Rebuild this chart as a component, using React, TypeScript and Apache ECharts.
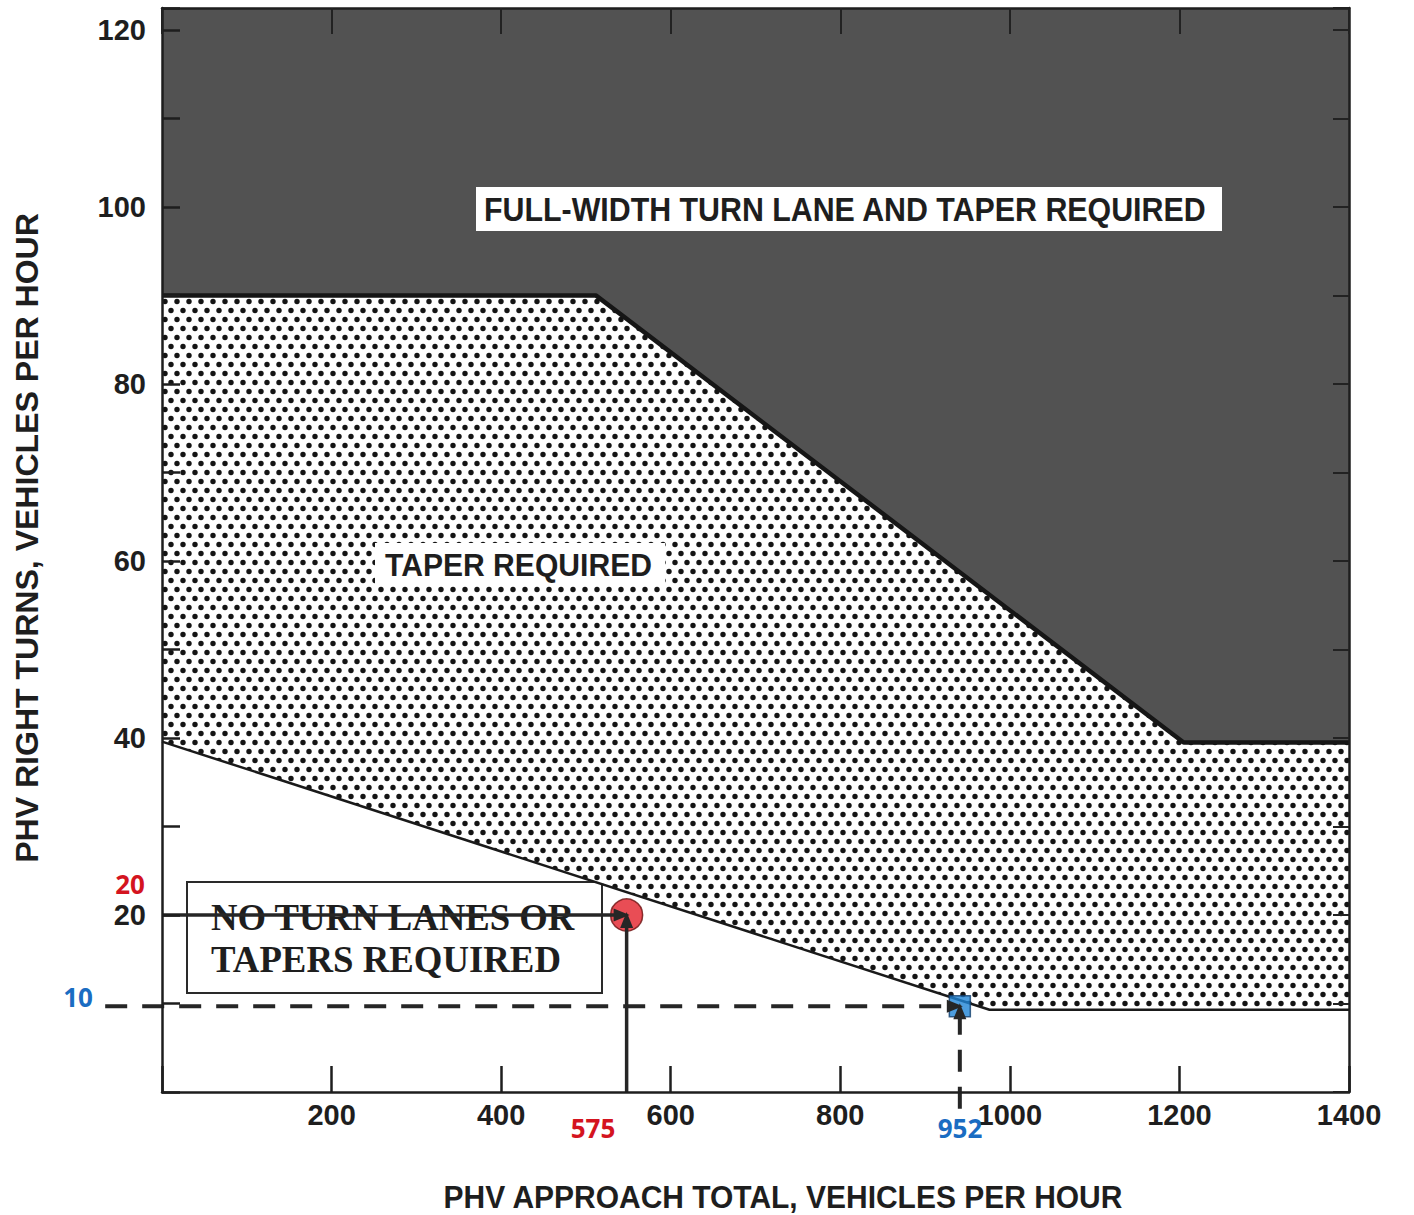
import React, { useEffect, useRef } from 'react';
import * as echarts from 'echarts';

// ---- data ----
const xTickStep = 200;
const yTickStep = 10;
const upperBoundary: number[][] = [[0, 90], [512, 90], [1205, 39.5], [1400, 39.5]];
const lowerBoundary: number[][] = [[0, 39.6], [976, 9.3], [1400, 9.3]];
const pointRed: number[] = [548, 20];
const pointBlue: number[] = [941, 9.7];
const redGuideH: number[][] = [[0, 20], [548, 20]];
const redGuideV: number[][] = [[548, 0], [548, 20]];
const blueGuideH: number[][] = [[-67, 9.7], [941, 9.7]];
const blueGuideV: number[][] = [[941, -1.9], [941, 9.7]];
const redLabels = ['20', '575'];
const blueLabels = ['10', '952'];
const regionTexts = [
  'FULL-WIDTH TURN LANE AND TAPER REQUIRED',
  'TAPER REQUIRED',
  'NO TURN LANES OR',
  'TAPERS REQUIRED',
];
const xTitle = 'PHV APPROACH TOTAL, VEHICLES PER HOUR';
const yTitle = 'PHV RIGHT TURNS, VEHICLES PER HOUR';

const SANS = '"Liberation Sans", Arial, Helvetica, sans-serif';
const SERIF = '"Liberation Serif", "Times New Roman", serif';

function measure(text: string, font: string): number {
  const c = document.createElement('canvas').getContext('2d')!;
  c.font = font;
  return c.measureText(text).width || 1;
}

function fitText(text: string, x: number, y: number, width: number, size: number, family: string, align: 'left' | 'center', extra: any = {}) {
  const font = `bold ${size}px ${family}`;
  const s = width / measure(text, font);
  return {
    type: 'text',
    x,
    y,
    scaleX: s,
    ...extra,
    style: {
      text,
      font,
      fill: '#1e1e1e',
      textAlign: align,
      verticalAlign: 'middle',
    },
  };
}

const TILE_W = 12;
const TILE_H = 18;

function makeDotPattern(): string {
  const c = document.createElement('canvas');
  c.width = TILE_W; c.height = TILE_H;
  const g = c.getContext('2d')!;
  g.fillStyle = '#ffffff';
  g.fillRect(0, 0, TILE_W, TILE_H);
  g.fillStyle = '#141414';
  const dots = [[3, 4.5], [9, 13.5]];
  dots.forEach(([dx, dy]) => {
    g.beginPath();
    g.arc(dx, dy, 2.7, 0, Math.PI * 2);
    g.fill();
  });
  return c.toDataURL();
}

// Guide line with an arrowhead at its end, drawn through the axes (custom series, unclipped)
function guideSeries(data: number[][], dashed: boolean) {
  return {
    type: 'custom',
    z: 6,
    silent: true,
    clip: false,
    data: [[data[0][0], data[0][1], data[1][0], data[1][1]]],
    encode: { x: [0, 2], y: [1, 3] },
    renderItem: (_params: any, api: any) => {
      const p1 = api.coord([api.value(0), api.value(1)]);
      const p2 = api.coord([api.value(2), api.value(3)]);
      const dx = p2[0] - p1[0];
      const dy = p2[1] - p1[1];
      const len = Math.hypot(dx, dy) || 1;
      const ux = dx / len, uy = dy / len;
      const nx = -uy, ny = ux;
      const tip = [p2[0] + ux * 3, p2[1] + uy * 3];
      const headLen = 16, headW = 6.5;
      const base = [tip[0] - ux * headLen, tip[1] - uy * headLen];
      return {
        type: 'group',
        children: [
          {
            type: 'line',
            shape: { x1: p1[0], y1: p1[1], x2: base[0] + ux * 2, y2: base[1] + uy * 2 },
            style: { stroke: '#262626', lineWidth: dashed ? 4 : 3.5, lineDash: dashed ? [22, 15] : null, fill: null },
          },
          {
            type: 'polygon',
            shape: { points: [tip, [base[0] + nx * headW, base[1] + ny * headW], [base[0] - nx * headW, base[1] - ny * headW]] },
            style: { fill: '#262626' },
          },
        ],
      };
    },
  };
}

export default function App() {
  const ref = useRef<HTMLDivElement>(null);
  useEffect(() => {
    if (!ref.current) return;
    const chart = echarts.init(ref.current, undefined, { renderer: 'svg' });
    const dotUrl = makeDotPattern();

    const axisLineStyle = { color: '#1e1e1e', width: 2.5 };
    const tickStyle = { color: '#1e1e1e', width: 2.5 };
    const labelFont = { fontFamily: SANS, fontWeight: 'bold', fontSize: 29, color: '#1e1e1e' };

    const colored = (text: string, x: number, y: number, color: string) => ({
      type: 'text', x, y, z: 20,
      style: { text, font: `bold 26px "Open Sans", sans-serif`, fill: color, textAlign: 'center', verticalAlign: 'middle' },
    });

    chart.setOption({
      animation: false,
      grid: { left: 162, right: 65, top: 8, bottom: 123, containLabel: false },
      xAxis: [
        {
          type: 'value', min: 0, max: 1400, interval: xTickStep, position: 'bottom', z: 10,
          axisLine: { show: true, onZero: false, lineStyle: axisLineStyle },
          axisTick: { show: true, inside: true, length: 26, lineStyle: tickStyle },
          axisLabel: { ...labelFont, margin: 8, formatter: (v: number) => (v === 0 ? '' : String(v)) },
          splitLine: { show: false },
        },
        {
          type: 'value', min: 0, max: 1400, interval: xTickStep, position: 'top', z: 10,
          axisLine: { show: true, onZero: false, lineStyle: axisLineStyle },
          axisTick: { show: true, inside: true, length: 26, lineStyle: { color: '#222', width: 2 } },
          axisLabel: { show: false },
          splitLine: { show: false },
        },
      ],
      yAxis: [
        {
          type: 'value', min: 0, max: 122.5, interval: yTickStep, position: 'left', z: 10,
          axisLine: { show: true, onZero: false, lineStyle: axisLineStyle },
          axisTick: { show: true, inside: true, length: 18, lineStyle: tickStyle },
          axisLabel: {
            ...labelFont, margin: 16,
            formatter: (v: number) => (v > 0 && v <= 120 && v % 20 === 0 ? String(v) : ''),
          },
          splitLine: { show: false },
        },
        {
          type: 'value', min: 0, max: 122.5, interval: yTickStep, position: 'right', z: 10,
          axisLine: { show: true, onZero: false, lineStyle: axisLineStyle },
          axisTick: { show: true, inside: true, length: 16, lineStyle: { color: '#222', width: 2 } },
          axisLabel: { show: false },
          splitLine: { show: false },
        },
      ],
      series: [
        {
          type: 'line', name: 'taper', z: 2, silent: true,
          symbol: 'none',
          data: lowerBoundary,
          lineStyle: { color: '#1a1a1a', width: 2.5 },
          areaStyle: {
            origin: 'end', opacity: 1,
            color: { image: dotUrl, repeat: 'repeat', imageWidth: TILE_W, imageHeight: TILE_H },
          },
        },
        {
          type: 'line', name: 'full', z: 3, silent: true,
          symbol: 'none',
          data: upperBoundary,
          lineStyle: { color: '#161616', width: 4.5 },
          areaStyle: { origin: 'end', opacity: 1, color: '#525252' },
        },
        {
          type: 'scatter', z: 5, silent: true,
          symbol: 'circle', symbolSize: 32,
          itemStyle: { color: '#e3202a', borderColor: '#6b0d0d', borderWidth: 1.5 },
          data: [pointRed],
        },
        {
          type: 'scatter', z: 5, silent: true,
          symbol: 'rect', symbolSize: 21,
          itemStyle: { color: '#1f84d6', borderColor: '#123d6b', borderWidth: 1.5 },
          data: [pointBlue],
        },
        guideSeries(redGuideH, false),
        guideSeries(redGuideV, false),
        guideSeries(blueGuideH, true),
        guideSeries(blueGuideV, true),
      ],
      graphic: [
        { type: 'rect', z: 20, shape: { x: 476, y: 187, width: 746, height: 44 }, style: { fill: '#ffffff' } },
        fitText(regionTexts[0], 484, 209, 723, 34, SANS, 'left', { z: 21 }),
        { type: 'rect', z: 20, shape: { x: 375, y: 543, width: 290, height: 42 }, style: { fill: '#ffffff' } },
        fitText(regionTexts[1], 385, 565, 267, 31, SANS, 'left', { z: 21 }),
        { type: 'rect', z: 1, shape: { x: 187, y: 882, width: 415, height: 111 }, style: { fill: 'none', stroke: '#2a2a2a', lineWidth: 2 } },
        fitText(regionTexts[2], 211, 917, 364, 37, SERIF, 'left', { z: 1 }),
        fitText(regionTexts[3], 211, 959, 350, 37, SERIF, 'left', { z: 1 }),
        fitText(xTitle, 783, 1197, 680, 31, SANS, 'center', { z: 20 }),
        fitText(yTitle, 27, 538, 650, 31, SANS, 'center', { z: 20, rotation: Math.PI / 2 }),
        colored(redLabels[0], 130, 884, '#d4141f'),
        colored(redLabels[1], 593, 1128, '#d4141f'),
        colored(blueLabels[0], 78, 997, '#1a6cc2'),
        colored(blueLabels[1], 960, 1128, '#1a6cc2'),
      ],
    });
    return () => chart.dispose();
  }, []);
  return <div ref={ref} style={{ position: 'absolute', left: 0, top: 0, width: 1414, height: 1215, background: '#ffffff' }} />;
}
